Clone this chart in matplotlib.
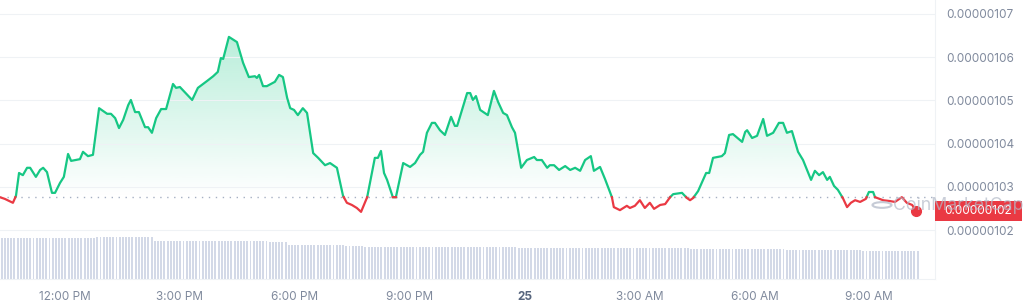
import numpy as np
import matplotlib.pyplot as plt
import matplotlib.transforms as mtransforms
from matplotlib.colors import LinearSegmentedColormap
from matplotlib.patches import Rectangle, PathPatch, Circle
from matplotlib.path import Path

plt.rcParams['font.family'] = ['Inter', 'DejaVu Sans']

GREEN = '#16c784'
RED = '#ea3943'
GRAY = '#808a9d'
GRID = '#eff2f5'

# --- data: time in hours from midnight of the 24th, price in units of 1e-8 ---
hours = [10.30, 10.43, 10.64, 10.72, 10.80, 10.90, 11.01, 11.09, 11.24, 11.35, 11.43, 11.53,
         11.66, 11.74, 11.87, 11.97, 12.08, 12.16, 12.39, 12.47, 12.60, 12.73, 12.89, 13.10,
         13.20, 13.31, 13.41, 13.52, 13.65, 13.72, 13.83, 13.93, 14.09, 14.17, 14.27, 14.38,
         14.51, 14.64, 14.82, 14.90, 15.00, 15.32, 15.47, 15.71, 15.87, 15.99, 16.07, 16.13,
         16.28, 16.49, 16.65, 16.80, 16.96, 17.01, 17.07, 17.17, 17.27, 17.48, 17.59, 17.69,
         17.80, 17.88, 17.98, 18.08, 18.21, 18.32, 18.48, 18.61, 18.79, 18.92, 19.10, 19.26,
         19.36, 19.49, 19.62, 19.73, 19.89, 20.09, 20.17, 20.25, 20.33, 20.41, 20.56, 20.64,
         20.83, 21.01, 21.14, 21.27, 21.35, 21.45, 21.58, 21.66, 21.79, 21.92, 22.08, 22.18,
         22.24, 22.50, 22.58, 22.65, 22.73, 22.84, 23.04, 23.20, 23.31, 23.44, 23.54, 23.67,
         23.75, 23.91, 24.06, 24.25, 24.32, 24.45, 24.59, 24.66, 24.77, 24.90, 25.06, 25.19,
         25.32, 25.45, 25.58, 25.73, 25.81, 25.97, 26.10, 26.28, 26.33, 26.49, 26.67, 26.75,
         26.88, 27.01, 27.14, 27.27, 27.38, 27.54, 27.67, 27.80, 27.88, 28.11, 28.24, 28.32,
         28.40, 28.53, 28.74, 28.82, 28.92, 29.15, 29.23, 29.34, 29.44, 29.68, 29.76, 29.81,
         29.94, 30.07, 30.23, 30.33, 30.49, 30.64, 30.75, 30.85, 30.98, 31.14, 31.27, 31.48,
         31.58, 31.69, 31.79, 31.90, 31.97, 32.08, 32.18, 32.31, 32.42, 32.52, 32.63, 32.76,
         32.91, 32.99, 33.10, 33.15, 33.36, 33.54, 33.67, 33.85, 33.98, 34.12, 34.22]

price_e8 = [102.76, 102.72, 102.63, 102.79, 103.32, 103.27, 103.44, 103.44, 103.23, 103.39, 103.44, 103.34,
            102.86, 102.86, 103.09, 103.23, 103.76, 103.60, 103.64, 103.81, 103.71, 103.74, 104.82, 104.69,
            104.69, 104.59, 104.36, 104.55, 104.89, 105.01, 104.73, 104.73, 104.38, 104.38, 104.25, 104.59,
            104.80, 104.80, 105.38, 105.29, 105.31, 105.01, 105.29, 105.45, 105.56, 105.66, 105.98, 105.96,
            106.47, 106.35, 105.87, 105.54, 105.56, 105.52, 105.59, 105.33, 105.33, 105.43, 105.59, 105.54,
            105.06, 104.82, 104.78, 104.66, 104.82, 104.71, 103.78, 103.67, 103.50, 103.55, 103.44, 102.79,
            102.63, 102.58, 102.51, 102.42, 102.76, 103.67, 103.67, 103.83, 103.32, 103.16, 102.76, 102.76,
            103.55, 103.46, 103.55, 103.74, 103.81, 104.25, 104.48, 104.48, 104.31, 104.20, 104.62, 104.41,
            104.41, 105.17, 105.17, 105.01, 105.10, 104.78, 104.66, 105.22, 104.96, 104.71, 104.66, 104.38,
            104.25, 103.44, 103.62, 103.69, 103.62, 103.62, 103.44, 103.50, 103.50, 103.39, 103.48, 103.39,
            103.44, 103.37, 103.62, 103.71, 103.37, 103.46, 103.18, 102.76, 102.53, 102.46, 102.56, 102.51,
            102.56, 102.69, 102.51, 102.63, 102.49, 102.58, 102.60, 102.76, 102.83, 102.86, 102.74, 102.69,
            102.74, 102.90, 103.32, 103.32, 103.67, 103.71, 103.78, 104.20, 104.22, 104.04, 104.27, 104.31,
            104.13, 104.18, 104.57, 104.18, 104.25, 104.48, 104.48, 104.25, 104.29, 103.81, 103.62, 103.16,
            103.37, 103.27, 103.34, 103.16, 103.23, 103.02, 102.93, 102.74, 102.53, 102.63, 102.69, 102.65,
            102.72, 102.88, 102.88, 102.76, 102.69, 102.67, 102.65, 102.76, 102.63, 102.58, 102.44]

open_e8 = 102.76  # dotted reference price

# 24h volume (millions), one reading per half hour, shown as 5-minute bars
vol_halfhour = [4.10, 4.10, 4.10, 4.10, 4.15, 4.20, 4.20, 4.20, 3.80, 3.80, 3.80, 3.80,
                3.80, 3.80, 3.75, 3.40, 3.40, 3.40, 3.35, 3.25, 3.25, 3.25, 3.25, 3.25,
                3.25, 3.20, 3.20, 3.15, 3.10, 3.10, 3.10, 3.10, 3.10, 3.10, 3.10, 3.10,
                3.05, 3.00, 3.00, 3.00, 3.00, 2.90, 2.90, 2.90, 2.90, 2.85, 2.85, 2.80]

price_ticks = [102, 103, 104, 105, 106, 107]
time_ticks = [12, 15, 18, 21, 24, 27, 30, 33]
time_labels = ['12:00 PM', '3:00 PM', '6:00 PM', '9:00 PM', '25', '3:00 AM', '6:00 AM', '9:00 AM']

# --- figure layout (pixel based) ---
W, H = 1024, 307
fig = plt.figure(figsize=(W / 100, H / 100), dpi=100)
plot_w = 935 / W
ax = fig.add_axes([0, 1 - 232 / H, plot_w, 232 / H])
axv = fig.add_axes([0, 28 / H, plot_w, 47 / H])

t = np.array(hours)
p = np.array(price_e8)

# insert crossing points so the green / red parts meet at the open line
tt, pp = [t[0]], [p[0]]
for i in range(1, len(t)):
    a, b = p[i - 1] - open_e8, p[i] - open_e8
    if a * b < 0:
        f = a / (a - b)
        tt.append(t[i - 1] + f * (t[i] - t[i - 1]))
        pp.append(open_e8)
    tt.append(t[i])
    pp.append(p[i])
tt, pp = np.array(tt), np.array(pp)

up = np.where(pp >= open_e8, pp, np.nan)
dn = np.where(pp <= open_e8, pp, np.nan)


def gradient_fill(mask, color, a_far, y0, y1):
    coll = ax.fill_between(tt, pp, open_e8, where=mask, interpolate=True,
                           facecolor='none', edgecolor='none')
    path = Path.make_compound_path(*coll.get_paths())
    patch = PathPatch(path, transform=ax.transData, facecolor='none', edgecolor='none')
    ax.add_patch(patch)
    rgb = plt.matplotlib.colors.to_rgb(color)
    cmap = LinearSegmentedColormap.from_list('g', [(*rgb, 0.0), (*rgb, a_far)])
    grad = np.linspace(0, 1, 256).reshape(-1, 1)
    img = ax.imshow(grad, extent=[tt.min(), tt.max(), y0, y1], origin='lower',
                    aspect='auto', cmap=cmap, zorder=1)
    img.set_clip_path(patch)


gradient_fill(pp >= open_e8, GREEN, 0.30, open_e8, pp.max())

ax.axhline(open_e8, color='#a6b0c3', linestyle=(0, (1, 4)), linewidth=1.0, zorder=2)
ax.plot(tt, up, color=GREEN, linewidth=1.6, zorder=3, solid_joinstyle='round')
ax.plot(tt, dn, color=RED, linewidth=1.6, zorder=3, solid_joinstyle='round')
ax.plot(t[-1], p[-1], 'o', color=RED, markersize=7, zorder=4)

xlim = (10.303, 34.716)
ax.set_xlim(*xlim)
ax.set_ylim(101.954, 107.324)
ax.set_yticks(price_ticks)
ax.yaxis.tick_right()
ax.yaxis.set_major_formatter(plt.FuncFormatter(lambda v, _: f'{v * 1e-8:.8f}'))
ax.tick_params(axis='y', length=0, pad=8, labelsize=8.5, labelcolor=GRAY)
ax.set_xticks([])
ax.grid(axis='y', color=GRID, linewidth=0.8, zorder=0)
for s in ['top', 'left', 'bottom']:
    ax.spines[s].set_visible(False)
ax.spines['right'].set_color(GRID)

# current price tag
last = p[-1]
trans = mtransforms.blended_transform_factory(ax.transAxes, ax.transData)
tag_w = 87 / 935
ax.add_patch(Rectangle((1.0, last - 0.22), tag_w, 0.44, transform=trans,
                       facecolor=RED, edgecolor='none', clip_on=False, zorder=5))
ax.text(1.0 + tag_w / 2, last, f'{last * 1e-8:.8f}', transform=trans, ha='center',
        va='center', color='white', fontsize=8.5, zorder=6, clip_on=False)

# volume bars
vol = np.repeat(vol_halfhour, 6)
step = 5 / 60
vol_t = xlim[0] + step / 2 + np.arange(len(vol)) * step
axv.bar(vol_t, vol, width=step * 0.6, color='#d3d9e7', linewidth=0)
axv.set_xlim(*xlim)
axv.set_ylim(0, 4.7)
axv.set_yticks([])
axv.set_xticks(time_ticks, time_labels)
axv.tick_params(axis='x', length=0, pad=9, labelsize=8.5, labelcolor=GRAY)
for lab in axv.get_xticklabels():
    if lab.get_text() == '25':
        lab.set_fontweight('bold')
        lab.set_color('#58667e')
for s in ['top', 'left']:
    axv.spines[s].set_visible(False)
axv.spines['right'].set_color(GRID)
axv.spines['bottom'].set_color(GRID)
axv.patch.set_alpha(0)

# watermark
fig.patches.append(Circle((882 / W, 1 - 205 / H), 9.5 / W, transform=fig.transFigure,
                          facecolor='none', edgecolor='#b8bfcc', linewidth=1.5, alpha=0.8,
                          zorder=10))
fig.text(893 / W, 1 - 205 / H, 'CoinMarketCap', ha='left', va='center', fontsize=12.8,
         color='#b3bac8', alpha=0.7, zorder=10)

fig.savefig('out.png', dpi=100)
